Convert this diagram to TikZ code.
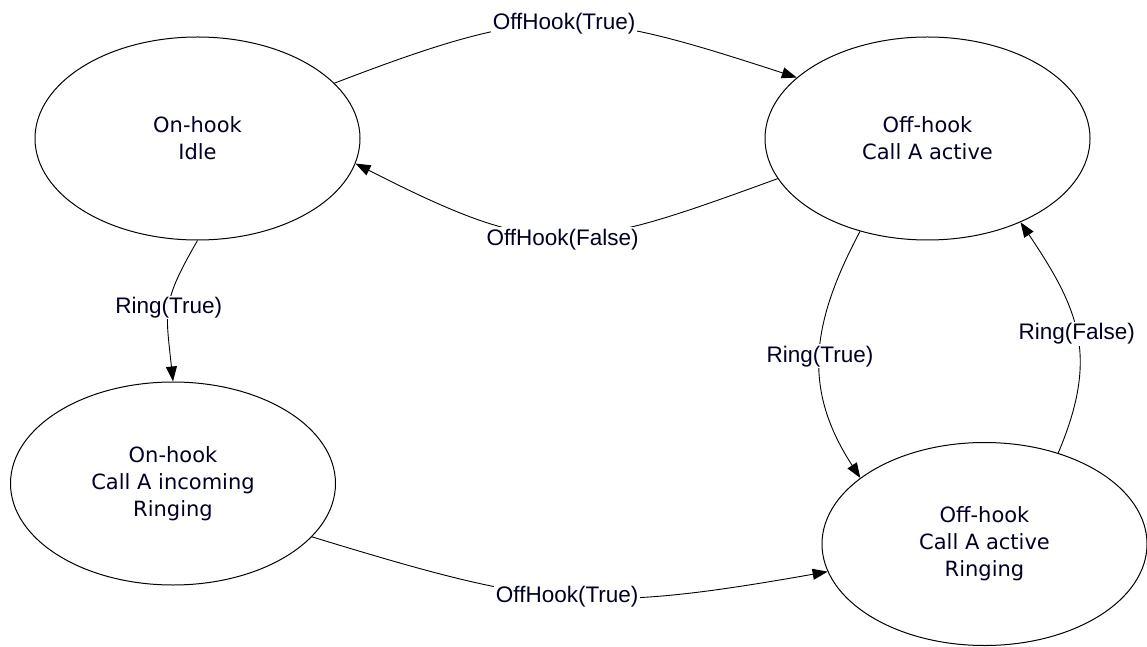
\documentclass[tikz,border=0pt]{standalone}
\usepackage{fontspec}
\newfontfamily\statefont{DejaVu Sans}
\newfontfamily\labelfont{Liberation Sans}
\usetikzlibrary{arrows.meta,shapes.geometric}
\begin{document}
\begin{tikzpicture}[x=1pt,y=1pt,
  state/.style={ellipse,draw,line width=1pt,minimum width=325pt,minimum height=203pt,
    inner sep=0pt,align=center,text=black!85!blue,font=\statefont\fontsize{21}{27}\selectfont},
  trans/.style={draw,line width=0.9pt,-{Triangle[length=15pt,width=11pt]}},
  lbl/.style={fill=white,inner sep=1.5pt,text=black!85!blue,font=\labelfont\fontsize{22.5}{26}\selectfont}]
\useasboundingbox (0,0) rectangle (1147,646);
\node[state] (idle) at (197.5,507.5) {On-hook\\Idle};
\node[state] (active) at (927.5,507.5) {Off-hook\\Call A active};
\node[state] (incoming) at (173,162.5) {On-hook\\Call A incoming\\Ringing};
\node[state] (ringing) at (984.5,102) {Off-hook\\Call A active\\Ringing};

\draw[trans] (idle.22) to[out=21,in=162,looseness=1.25] node[lbl]{OffHook(True)} (active.155);
\draw[trans] (active.195) to[out=200,in=333,looseness=1.3] node[lbl,yshift=-4pt]{OffHook(False)} (idle.-9);
\draw[trans] (idle.south) to[out=240,in=96,looseness=1.3] node[lbl]{Ring(True)} (incoming.north);
\draw[trans] (active.234) to[out=242,in=123,looseness=1.1] node[lbl]{Ring(True)} (ringing.152.6);
\draw[trans] (ringing.51.4) to[out=67,in=304,looseness=1.15] node[lbl]{Ring(False)} (active.-42);
\draw[trans] (incoming.-21) to[out=-17,in=190,looseness=1.2] node[lbl]{OffHook(True)} (ringing.190);
\end{tikzpicture}
\end{document}
